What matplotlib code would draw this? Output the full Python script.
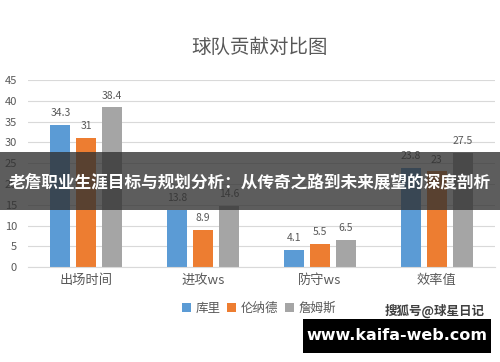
import numpy as np
import matplotlib
matplotlib.use("Agg")
import matplotlib.pyplot as plt
from matplotlib.patches import Rectangle

plt.rcParams["font.family"] = ["Noto Sans CJK SC", "DejaVu Sans"]

# ============================
# 数据
# ============================
categories = ["出场时间", "进攻ws", "防守ws", "效率值"]
players = ["库里", "伦纳德", "詹姆斯"]
curry = [34.3, 13.8, 4.1, 23.8]
leonard = [31, 8.9, 5.5, 23]
james = [38.4, 14.6, 6.5, 27.5]
y_ticks = [0, 5, 10, 15, 20, 25, 30, 35, 40, 45]

title = "球队贡献对比图"
banner_text = "老詹职业生涯目标与规划分析：从传奇之路到未来展望的深度剖析"
watermark = "搜狐号@球星日记"
site_text = "www.kaifa-web.com"

colors = ["#5B9BD5", "#ED7D31", "#A5A5A5"]
text_color = "#595959"

fig = plt.figure(figsize=(5.0, 3.62), dpi=100)
ax = fig.add_axes([0.056, 0.262, 0.934, 0.517])

x = np.arange(len(categories))
width = 0.172
offset = 0.222

for i, (vals, color, name) in enumerate(zip([curry, leonard, james], colors, players)):
    pos = x + (i - 1) * offset
    ax.bar(pos, vals, width=width, color=color, label=name, zorder=2)
    for px, v in zip(pos, vals):
        ax.annotate(f"{v:g}", (px, v), xytext=(0, 5), textcoords="offset points",
                    ha="center", va="bottom", fontsize=7.5, color=text_color)

ax.set_xlim(-0.5, len(categories) - 0.5)
ax.set_ylim(0, 45)
ax.set_yticks(y_ticks)
ax.set_xticks(x)
ax.set_xticklabels(categories, fontsize=9.5, color=text_color)
ax.tick_params(axis="y", labelsize=8, colors=text_color, length=0, pad=8)
ax.tick_params(axis="x", length=0, pad=5)
ax.yaxis.grid(True, color="#D9D9D9", linewidth=0.8, zorder=0)
for side in ["top", "right", "left"]:
    ax.spines[side].set_visible(False)
ax.spines["bottom"].set_color("#D9D9D9")

fig.text(0.52, 0.87, title, ha="center", va="center", fontsize=14,
         color=text_color, fontweight="light")

ax.legend(loc="center", bbox_to_anchor=(0.495, -0.22), ncol=3, frameon=False,
          fontsize=9, handlelength=0.7, handleheight=0.7, handletextpad=0.4,
          columnspacing=0.5, labelcolor=text_color)

# 横幅
fig.add_artist(Rectangle((0, 0.42), 1, 0.16, transform=fig.transFigure,
                         facecolor="#303030", alpha=0.78, edgecolor="none", zorder=5))
fig.text(0.5, 0.495, banner_text, ha="center", va="center", fontsize=12,
         fontweight="bold", color="white", zorder=6)

# 水印
fig.text(0.87, 0.142, watermark, ha="center", va="center", fontsize=9,
         fontweight="bold", color="#404040", zorder=6)
fig.add_artist(Rectangle((0.606, 0.025), 0.376, 0.094, transform=fig.transFigure,
                         facecolor="black", edgecolor="none", zorder=5))
fig.text(0.794, 0.072, site_text, ha="center", va="center", fontsize=11.5,
         fontweight="bold", color="white", family=["DejaVu Sans"], zorder=6)

fig.savefig("out.png", dpi=100, facecolor="white")
